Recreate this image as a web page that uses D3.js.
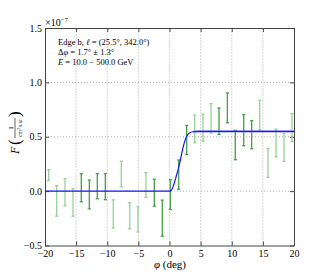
<!DOCTYPE html>
<html>
<head>
<meta charset="utf-8">
<script src="https://cdn.jsdelivr.net/npm/d3@7"></script>
<style>
  body { margin: 0; background: #fff; }
  svg text { font-family: "Liberation Serif", "DejaVu Serif", serif; fill: #000; }
</style>
</head>
<body>
<div id="chart"></div>
<script>
// edge scan: flux vs. offset angle, units of 1e-7
let phi = [-19.41, -18.12, -16.79, -15.50, -14.17, -12.88, -11.60, -10.31, -9.03, -7.74,
           -6.39, -5.06, -3.78, -2.44, -1.16, 0.13, 1.48, 2.76, 4.05, 5.38,
           6.67, 7.95, 9.29, 10.57, 11.92, 13.20, 14.49, 15.82, 17.11, 18.39, 19.68];
let flux = [0.147, -0.090, -0.010, -0.104, 0.031, -0.031, 0.045, 0.041, -0.210, 0.158,
            -0.227, -0.259, 0.056, -0.014, -0.249, -0.032, 0.152, 0.471, 0.572, 0.583,
            0.669, 0.643, 0.766, 0.424, 0.561, 0.519, 0.700, 0.258, 0.443, 0.401, 0.585];
let fluxErr = [0.050, 0.140, 0.124, 0.126, 0.129, 0.132, 0.115, 0.120, 0.130, 0.118,
               0.120, 0.115, 0.114, 0.124, 0.166, 0.137, 0.134, 0.133, 0.127, 0.123,
               0.135, 0.121, 0.137, 0.135, 0.143, 0.129, 0.135, 0.132, 0.127, 0.128, 0.128];
let group = [0, 0, 0, 0, 1, 1, 1, 1, 0, 0, 0, 0, 0, 1, 1, 1, 1, 1, 0, 0,
             0, 1, 1, 1, 1, 1, 0, 0, 0, 0, 0];

// fitted edge model
let modelPhi = [-20, 0, 0.3, 0.63, 1.0, 1.48, 1.8, 2.17, 2.7, 3.24, 3.77, 4.5, 20];
let modelF = [0, 0, 0.008, 0.05, 0.12, 0.22, 0.30, 0.40, 0.497, 0.537, 0.546, 0.549, 0.549];

let xTicks = [-20, -15, -10, -5, 0, 5, 10, 15, 20];
let yTicks = [-0.5, 0.0, 0.5, 1.0, 1.5];

function main() {
    let W = 320, H = 280;
    let svg = d3.select("#chart").append("svg")
        .attr("width", W).attr("height", H);

    let x = d3.scaleLinear().domain([-20, 20]).range([45, 294]);
    let y = d3.scaleLinear().domain([-0.5, 1.5]).range([245.5, 28]);
    let colors = d3.scaleOrdinal().domain([0, 1]).range(["#98d098", "#45a045"]);
    let fmt = d => d3.format(".1f")(d).replace("-", "\u2212");

    // grid
    let grid = svg.append("g").attr("stroke", "#9a9a9a").attr("stroke-width", 0.8)
        .attr("stroke-dasharray", "1,2");
    grid.selectAll("line.gx").data(xTicks.slice(1, -1)).enter().append("line")
        .attr("x1", d => x(d)).attr("x2", d => x(d))
        .attr("y1", y(-0.5)).attr("y2", y(1.5));
    grid.selectAll("line.gy").data(yTicks.slice(1, -1)).enter().append("line")
        .attr("y1", d => y(d)).attr("y2", d => y(d))
        .attr("x1", x(-20)).attr("x2", x(20));

    // axes, ticks inside on all four sides
    let bottom = svg.append("g").attr("transform", `translate(0,${y(-0.5)})`)
        .call(d3.axisBottom(x).tickValues(xTicks).tickSizeInner(-4).tickSizeOuter(0)
            .tickPadding(4).tickFormat(d => String(d).replace("-", "\u2212")));
    let left = svg.append("g").attr("transform", `translate(${x(-20)},0)`)
        .call(d3.axisLeft(y).tickValues(yTicks).tickSizeInner(-4).tickSizeOuter(0)
            .tickPadding(3).tickFormat(fmt));
    let top = svg.append("g").attr("transform", `translate(0,${y(1.5)})`)
        .call(d3.axisTop(x).tickValues(xTicks).tickSizeInner(-4).tickSizeOuter(0).tickFormat(""));
    let right = svg.append("g").attr("transform", `translate(${x(20)},0)`)
        .call(d3.axisRight(y).tickValues(yTicks).tickSizeInner(-4).tickSizeOuter(0).tickFormat(""));
    [bottom, left, top, right].forEach(a => {
        a.attr("font-family", null);
        a.select(".domain").attr("stroke", "#444").attr("stroke-width", 1);
        a.selectAll(".tick line").attr("stroke", "#444");
        a.selectAll("text").attr("font-size", 10);
    });
    left.selectAll(".tick text").attr("dy", "0.3em");

    // error bars
    let bars = svg.append("g").selectAll("g.bar")
        .data(phi.map((p, i) => ({p: p, f: flux[i], e: fluxErr[i], g: group[i]})))
        .enter().append("g").attr("stroke", d => colors(d.g)).attr("stroke-width", 1.3);
    bars.append("line")
        .attr("x1", d => x(d.p)).attr("x2", d => x(d.p))
        .attr("y1", d => y(d.f - d.e)).attr("y2", d => y(d.f + d.e));
    bars.append("line")
        .attr("x1", d => x(d.p) - 1.6).attr("x2", d => x(d.p) + 1.6)
        .attr("y1", d => y(d.f + d.e)).attr("y2", d => y(d.f + d.e));
    bars.append("line")
        .attr("x1", d => x(d.p) - 1.6).attr("x2", d => x(d.p) + 1.6)
        .attr("y1", d => y(d.f - d.e)).attr("y2", d => y(d.f - d.e));

    // model curve
    let model = modelPhi.map((p, i) => [p, modelF[i]]);
    let line = d3.line().x(d => x(d[0])).y(d => y(d[1])).curve(d3.curveMonotoneX);
    svg.append("path").datum(model.filter(d => d[0] >= 3.77))
        .attr("fill", "none").attr("stroke", "#8080ff").attr("stroke-opacity", 0.45)
        .attr("stroke-width", 3).attr("d", line);
    svg.append("path").datum(model)
        .attr("fill", "none").attr("stroke", "#1515ff").attr("stroke-width", 1.2)
        .attr("d", line);

    // scale factor
    let sf = svg.append("text").attr("x", 45).attr("y", 26).attr("font-size", 10);
    sf.append("tspan").text("\u00d710");
    sf.append("tspan").attr("dy", -4).attr("font-size", 7).text("\u22127");

    // annotation
    let ann = svg.append("g").attr("font-size", 8.5);
    let l1 = ann.append("text").attr("x", 58).attr("y", 45);
    l1.append("tspan").text("Edge b, ");
    l1.append("tspan").attr("font-style", "italic").text("\u2113");
    l1.append("tspan").text(" = (25.5\u00b0, 342.0\u00b0)");
    let l2 = ann.append("text").attr("x", 58).attr("y", 55);
    l2.append("tspan").text("\u0394");
    l2.append("tspan").attr("font-style", "italic").text("\u03c6");
    l2.append("tspan").text(" = 1.7\u00b0 \u00b1 1.3\u00b0");
    let l3 = ann.append("text").attr("x", 58).attr("y", 65);
    l3.append("tspan").attr("font-style", "italic").text("E");
    l3.append("tspan").text(" = 10.0 \u2212 500.0 GeV");

    // x label
    let xl = svg.append("text").attr("x", 170).attr("y", 268)
        .attr("text-anchor", "middle").attr("font-size", 11);
    xl.append("tspan").attr("font-style", "italic").text("\u03c6");
    xl.append("tspan").text(" (deg)");

    // y label: F (1 / cm^2 s sr)
    let yl = svg.append("g").attr("transform", "translate(15,134) rotate(-90)");
    yl.append("text").attr("x", -20).attr("y", 4).attr("font-size", 12)
        .attr("font-style", "italic").text("F");
    yl.append("text").attr("x", -11).attr("y", 5).attr("font-size", 17).text("(");
    yl.append("text").attr("x", 6).attr("y", -2).attr("font-size", 7)
        .attr("text-anchor", "middle").text("1");
    yl.append("line").attr("x1", -4).attr("x2", 16).attr("y1", 0).attr("y2", 0)
        .attr("stroke", "#000").attr("stroke-width", 0.6);
    let den = yl.append("text").attr("x", 6).attr("y", 6.5).attr("font-size", 5.5)
        .attr("text-anchor", "middle");
    den.append("tspan").text("cm");
    den.append("tspan").attr("dy", -2).attr("font-size", 4).text("2");
    den.append("tspan").attr("dy", 2).text(" s sr");
    yl.append("text").attr("x", 17).attr("y", 5).attr("font-size", 17).text(")");
}

main();
</script>
</body>
</html>
